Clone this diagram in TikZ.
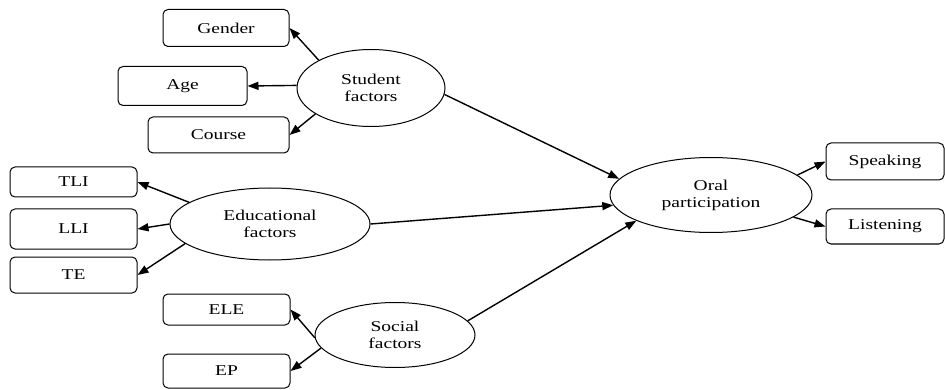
\documentclass[tikz,border=0pt]{standalone}
\usepackage{fontspec}
\setmainfont{Liberation Serif}[FakeStretch=1.3]
\usetikzlibrary{arrows.meta, shapes.geometric}

\begin{document}
\begin{tikzpicture}[x=1pt, y=-1pt, font=\fontsize{15}{17}\selectfont,
    >={Triangle[length=11pt, width=8pt]},
    factor/.style={ellipse, draw, line width=1pt, inner sep=0pt, align=center},
    item/.style={draw, rounded corners=5pt, line width=1pt, inner sep=0pt},
    link/.style={->, line width=1.4pt}]
  \useasboundingbox (0,0) rectangle (945,390);
  % the factors and the outcome
  \node[factor, minimum width=148pt, minimum height=77pt] (student) at (371,88) {Student\\ factors};
  \node[factor, minimum width=200pt, minimum height=72pt] (edu) at (270,224) {Educational\\ factors};
  \node[factor, minimum width=160pt, minimum height=65pt] (social) at (395,335) {Social\\ factors};
  \node[factor, minimum width=202pt, minimum height=75pt] (oral) at (711,195) {Oral\\ participation};
  % indicators
  \node[item, minimum width=126pt, minimum height=37pt] (gender) at (226,28) {Gender};
  \node[item, minimum width=129pt, minimum height=39pt] (age) at (182.5,86) {Age};
  \node[item, minimum width=141pt, minimum height=36pt] (course) at (218.5,135) {Course};
  \node[item, minimum width=127pt, minimum height=30pt] (tli) at (73.5,182) {TLI};
  \node[item, minimum width=127pt, minimum height=40pt] (lli) at (73.5,229) {LLI};
  \node[item, minimum width=127pt, minimum height=36pt] (te) at (73.5,275) {TE};
  \node[item, minimum width=127pt, minimum height=31pt] (ele) at (226.5,309.5) {ELE};
  \node[item, minimum width=127pt, minimum height=34pt] (ep) at (226.5,371) {EP};
  \node[item, minimum width=118pt, minimum height=37pt] (speak) at (885,161.5) {Speaking};
  \node[item, minimum width=118pt, minimum height=35pt] (listen) at (885,226.5) {Listening};
  % arrows out of each factor
  \draw[link] (student.152) -- (gender.east);
  \draw[link] (student.178) -- (age.east);
  \draw[link] (student.205) -- (course.east);
  \draw[link] (edu.165) -- (tli.east);
  \draw[link] (edu.180) -- (lli.east);
  \draw[link] (edu.193) -- (te.east);
  \draw[link] (social.182) -- (ele.east);
  \draw[link] (social.190) -- (ep.east);
  % into the outcome and out of it
  \draw[link] (student.355) -- (oral.170);
  \draw[link] (edu.east) -- (oral.186);
  \draw[link] (social.11) -- (oral.199);
  \draw[link] (oral.13) -- (speak.west);
  \draw[link] (oral.345) -- (listen.west);
\end{tikzpicture}
\end{document}
